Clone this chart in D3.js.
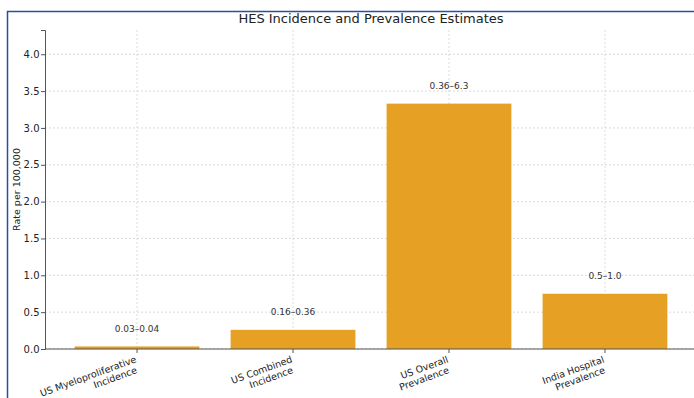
<!DOCTYPE html>
<html>
<head>
<meta charset="utf-8">
<script src="https://cdn.jsdelivr.net/npm/d3@7"></script>
<style>
  body { margin: 0; background: #fff; }
  svg { display: block; font-family: "DejaVu Sans", sans-serif; }
</style>
</head>
<body>
<svg id="chart"></svg>
<script>
const categories = ['US Myeloproliferative\nIncidence', 'US Combined\nIncidence', 'US Overall\nPrevalence', 'India Hospital\nPrevalence']
const values = [0.035, 0.26, 3.33, 0.75]
const rangeLabels = ['0.03–0.04', '0.16–0.36', '0.36–6.3', '0.5–1.0']
const yTicks = [0, 0.5, 1.0, 1.5, 2.0, 2.5, 3.0, 3.5, 4.0]

const width = 694
const height = 398
const margin = {top: 30, right: -3, bottom: 49, left: 45}
const innerW = width - margin.left - margin.right
const innerH = height - margin.top - margin.bottom

const svg = d3.select('#chart').attr('width', width).attr('height', height)

// frame
svg.append('line').attr('x1', 7).attr('x2', width).attr('y1', 11.5).attr('y2', 11.5).attr('stroke', '#2b4fa0').attr('stroke-width', 1.5)
svg.append('line').attr('x1', 7.5).attr('x2', 7.5).attr('y1', 11).attr('y2', height).attr('stroke', '#2b4fa0').attr('stroke-width', 1.5)

const g = svg.append('g').attr('transform', `translate(${margin.left},${margin.top})`)

// x scale in category units, like matplotlib
const xLin = d3.scaleLinear().domain([-0.59, categories.length - 1 + 0.59]).range([0, innerW])
const bw = xLin(0.4) - xLin(-0.4)
const yScale = d3.scaleLinear().domain([0, d3.max(values) * 1.3]).range([innerH, 0])

// grid
g.selectAll('.hgrid').data(yTicks).enter().append('line')
  .attr('x1', 0).attr('x2', innerW)
  .attr('y1', d => yScale(d)).attr('y2', d => yScale(d))
  .attr('stroke', '#d0d0d0').attr('stroke-width', 0.8).attr('stroke-dasharray', '2,2')
g.selectAll('.vgrid').data(categories).enter().append('line')
  .attr('x1', (d, i) => xLin(i)).attr('x2', (d, i) => xLin(i))
  .attr('y1', 0).attr('y2', innerH)
  .attr('stroke', '#d0d0d0').attr('stroke-width', 0.8).attr('stroke-dasharray', '2,2')

// bars
g.selectAll('.bar').data(values).enter().append('rect')
  .attr('x', (d, i) => xLin(i) - bw / 2)
  .attr('y', d => yScale(d))
  .attr('width', bw)
  .attr('height', d => innerH - yScale(d))
  .attr('fill', '#e6a023')

g.selectAll('.lbl').data(values).enter().append('text')
  .attr('x', (d, i) => xLin(i))
  .attr('y', d => yScale(d + 0.2))
  .attr('text-anchor', 'middle')
  .attr('font-size', 9)
  .attr('fill', '#333')
  .text((d, i) => rangeLabels[i])

// axes
const yAxis = d3.axisLeft(yScale).tickValues(yTicks).tickFormat(d3.format('.1f')).tickSize(4).tickPadding(1.5)
const ya = g.append('g').call(yAxis)
ya.select('.domain').attr('stroke', '#555')
ya.selectAll('.tick line').attr('stroke', '#555')
ya.selectAll('text').attr('font-size', 10).attr('fill', '#222').attr('font-family', '"DejaVu Sans", sans-serif')

const xa = g.append('g').attr('transform', `translate(0,${innerH})`)
xa.append('line').attr('x1', 0).attr('x2', innerW).attr('stroke', '#555')
const xt = xa.selectAll('.xt').data(categories).enter().append('g')
  .attr('transform', (d, i) => `translate(${xLin(i)},0)`)
xt.append('line').attr('y2', 4).attr('stroke', '#555')
const xtText = xt.append('text')
  .attr('transform', 'translate(0,13) rotate(-20)')
  .attr('text-anchor', 'end')
  .attr('font-size', 9.5)
  .attr('fill', '#222')
xtText.selectAll('tspan').data(d => d.split('\n')).enter().append('tspan')
  .attr('x', (d, i) => i === 0 ? 0 : -3)
  .attr('dy', (d, i) => i === 0 ? '0' : '1.1em')
  .text(d => d)

// title and y label
svg.append('text').attr('x', margin.left + innerW / 2).attr('y', 23)
  .attr('text-anchor', 'middle').attr('font-size', 13).attr('fill', '#222')
  .text('HES Incidence and Prevalence Estimates')
svg.append('text').attr('transform', `translate(20,${margin.top + innerH / 2}) rotate(-90)`)
  .attr('text-anchor', 'middle').attr('font-size', 9.5).attr('fill', '#222')
  .text('Rate per 100,000')
</script>
</body>
</html>
